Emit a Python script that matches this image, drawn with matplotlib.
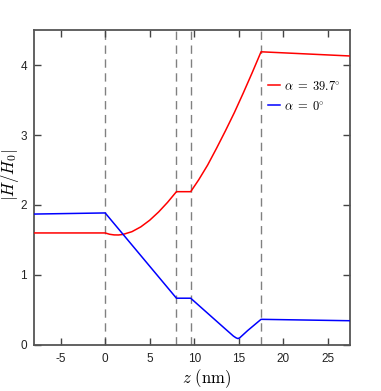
import matplotlib
matplotlib.use("Agg")
import matplotlib.pyplot as plt

plt.rcParams['mathtext.fontset'] = 'cm'

# boundaries (nm)
boundaries = [0, 8, 9.6, 17.5]

z_red = [-8, 0, 0.5, 1.0, 1.5, 2.0, 3.0, 4.0, 5.0, 6.0, 7.0, 8.0,
         9.6, 10.5, 11.5, 12.5, 13.5, 14.5, 15.5, 16.5, 17.5, 27.5]
h_red = [1.60, 1.60, 1.581, 1.572, 1.571, 1.579, 1.618, 1.687, 1.782, 1.900, 2.037, 2.19,
         2.19, 2.36, 2.57, 2.81, 3.06, 3.32, 3.60, 3.89, 4.19, 4.13]

z_blue = [-8, 0, 8, 9.6, 13.5, 14.0, 14.4, 14.7, 14.9, 15.1, 15.4, 16.0, 17.5, 27.5]
h_blue = [1.87, 1.886, 0.667, 0.667, 0.226, 0.17, 0.125, 0.100, 0.090, 0.10, 0.135, 0.205, 0.365, 0.345]

labels = [r'$\alpha\;=\;39.7^{\circ}$', r'$\alpha\;=\;0^{\circ}$']
xticks = [-5, 0, 5, 10, 15, 20, 25]
yticks = [0, 1, 2, 3, 4]

fig = plt.figure(figsize=(3.81, 3.91), dpi=100)
ax = fig.add_axes([0.089, 0.118, 0.83, 0.805])

for b in boundaries:
    ax.axvline(b, color='#808080', lw=1.0, dashes=(6, 4), zorder=1)

ax.plot(z_red, h_red, color='#ff0000', lw=1.1, label=labels[0], zorder=3)
ax.plot(z_blue, h_blue, color='#0000ff', lw=1.1, label=labels[1], zorder=3)

ax.set_xlim(-8, 27.5)
ax.set_ylim(0, 4.5)
ax.set_xticks(xticks)
ax.set_yticks(yticks)
ax.set_xticklabels([str(t) for t in xticks], family='Liberation Sans', fontsize=8.5, color='#222222')
ax.set_yticklabels([str(t) for t in yticks], family='Liberation Sans', fontsize=8.5, color='#222222')
ax.tick_params(direction='in', length=5, width=1.0, color='#444444', top=True, right=True)
ax.tick_params(axis='x', pad=6)
ax.tick_params(axis='y', pad=5)
for s in ax.spines.values():
    s.set_color('#555555')
    s.set_linewidth(1.3)

ax.set_xlabel(r'$z\ (\mathrm{nm})$', fontsize=12)
ax.xaxis.set_label_coords(0.547, -0.108)
ax.xaxis.label.set_va('center')
ax.set_ylabel(r'$|H/H_0|$', fontsize=12)
ax.yaxis.set_label_coords(-0.076, 0.54)
ax.yaxis.label.set_va('center')

leg = ax.legend(loc='center left', bbox_to_anchor=(0.74, 0.79), frameon=False,
                fontsize=9, handlelength=1.0, handletextpad=0.25, labelspacing=0.55,
                borderaxespad=0, borderpad=0)

fig.savefig('out.png', dpi=100)
